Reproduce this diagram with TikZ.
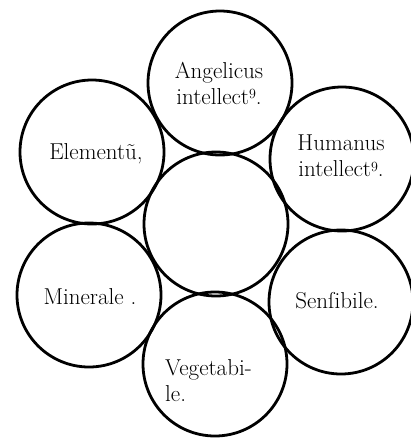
\documentclass[tikz,border=0pt]{standalone}
\usepackage{fontspec}
\newcommand{\usmark}{{\fontsize{14}{14}\selectfont\raisebox{0.9ex}{9}}}
\begin{document}
\begin{tikzpicture}[x=1pt,y=-1pt,
  ring/.style={draw=black,line width=2.8pt,circle,minimum size=144pt,inner sep=0pt},
  lbl/.style={font=\fontsize{23}{26}\selectfont,align=center,inner sep=0pt},
  lbll/.style={font=\fontsize{23}{26}\selectfont,align=left,inner sep=0pt}]
\useasboundingbox (0,0) rectangle (411,445);
\node[ring] (mid) at (216,224) {};
\node[ring] (ang) at (220,83) {};
\node[ring] (ele) at (92,152) {};
\node[ring] (hum) at (342,159) {};
\node[ring] (min) at (89,295) {};
\node[ring] (sen) at (341,302) {};
\node[ring] (veg) at (215,364) {};
\node[lbl] (tang) at (219,83) {Angelicus\\intellect\usmark.};
\node[lbl] (tele) at (96,154) {Elementũ,};
\node[lbl] (thum) at (341,156) {Humanus\\intellect\usmark.};
\node[lbl] (tmin) at (90,297) {Minerale .};
\node[lbl] (tsen) at (337,301) {Senſibile.};
\node[lbll,anchor=west] (tveg) at (165,381) {Vegetabi-\\le.};
\end{tikzpicture}
\end{document}
